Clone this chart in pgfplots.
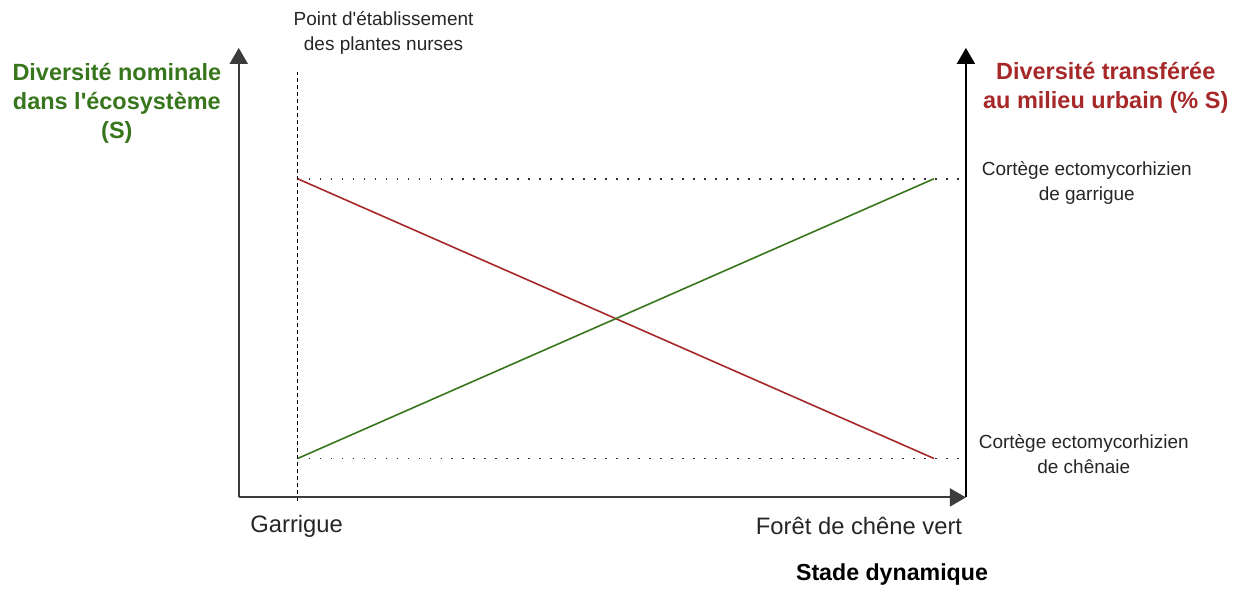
\documentclass[border=0pt]{standalone}
\usepackage{pgfplots}
\pgfplotsset{compat=1.18}
\usepackage{fontspec}
\setmainfont{Liberation Sans}
\usetikzlibrary{arrows.meta}
\definecolor{dgreen}{RGB}{56,118,29}
\definecolor{dred}{RGB}{166,40,40}
\definecolor{axgray}{RGB}{60,60,60}
\begin{document}
\begin{tikzpicture}
\begin{axis}[
  scale only axis, width=617.5pt, height=294pt,
  xmin=0, xmax=1235, ymin=0, ymax=588,
  hide axis, clip=false,
]
% bounding
\addplot[draw=none] coordinates {(0,0) (1235,588)};
% dotted reference levels
\addplot[black!80, line width=0.9pt, dash pattern=on 0.9pt off 4.6pt] coordinates {(298,409) (967,409)};
\addplot[black!80, line width=0.9pt, dash pattern=on 0.9pt off 4.6pt] coordinates {(298,129) (967,129)};
% dashed vertical (nurse plants)
\addplot[black, line width=0.6pt, dash pattern=on 2pt off 1.5pt] coordinates {(298,86) (298,516)};
% series
\addplot[dred, line width=0.8pt] coordinates {(298,409) (935,129)};
\addplot[dgreen, line width=0.8pt] coordinates {(298,129) (935,409)};
% axes
\addplot[axgray, line width=1pt, -{Triangle[length=8pt,width=9pt]}] coordinates {(239,90) (239,540)};
\addplot[axgray, line width=1pt, -{Triangle[length=8pt,width=9pt]}] coordinates {(239,90) (967,90)};
\addplot[black, line width=1pt, -{Triangle[length=8pt,width=9pt]}] coordinates {(967,90) (967,540)};
% texts
\node[align=center, font=\fontsize{9.5}{12.5}\selectfont, text=black!85] at (axis cs:384,555) {Point d\textquotesingle établissement\\des plantes nurses};
\node[align=center, font=\fontsize{11.75}{14.5}\selectfont\bfseries, text=dgreen] at (axis cs:117,485) {Diversité nominale\\dans l\textquotesingle écosystème\\(S)};
\node[align=center, font=\fontsize{11.75}{14.5}\selectfont\bfseries, text=dred] at (axis cs:1107,500) {Diversité transférée\\au milieu urbain (\% S)};
\node[align=center, font=\fontsize{9.5}{12.5}\selectfont, text=black!85] at (axis cs:1088,405) {Cortège ectomycorhizien\\de garrigue};
\node[align=center, font=\fontsize{9.5}{12.5}\selectfont, text=black!85] at (axis cs:1085,133) {Cortège ectomycorhizien\\de chênaie};
\node[font=\fontsize{11.9}{14}\selectfont, text=black!85] at (axis cs:297,61) {Garrigue};
\node[font=\fontsize{11.9}{14}\selectfont, text=black!85] at (axis cs:860,61) {Forêt de chêne vert};
\node[font=\fontsize{11.6}{14}\selectfont\bfseries, text=black] at (axis cs:893,13) {Stade dynamique};
\end{axis}
\end{tikzpicture}
\end{document}
